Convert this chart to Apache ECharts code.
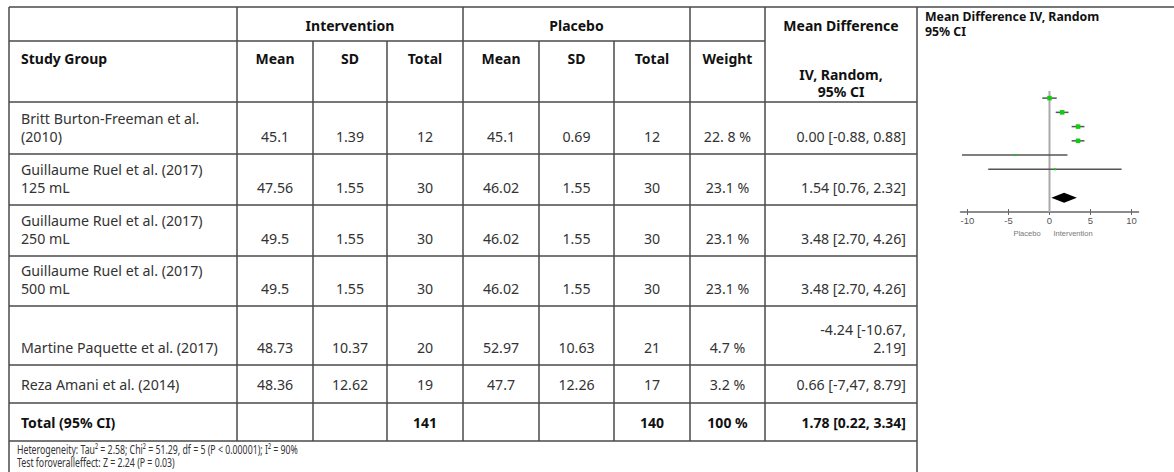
<!DOCTYPE html>
<html>
<head>
<meta charset="utf-8">
<script src="https://cdn.jsdelivr.net/npm/echarts@6/dist/echarts.min.js"></script>
<style>
html,body{margin:0;padding:0;background:#fff;}
#chart{width:1174px;height:472px;}
</style>
</head>
<body>
<div id="chart"></div>
<script>
// ---------- data ----------
const studies = [
  'Britt Burton-Freeman et al.\n(2010)',
  'Guillaume Ruel et al. (2017)\n125 mL',
  'Guillaume Ruel et al. (2017)\n250 mL',
  'Guillaume Ruel et al. (2017)\n500 mL',
  'Martine Paquette et al. (2017)',
  'Reza Amani et al. (2014)'
];
const intMean = ['45.1', '47.56', '49.5', '49.5', '48.73', '48.36'];
const intSD = ['1.39', '1.55', '1.55', '1.55', '10.37', '12.62'];
const intTotal = ['12', '30', '30', '30', '20', '19'];
const plaMean = ['45.1', '46.02', '46.02', '46.02', '52.97', '47.7'];
const plaSD = ['0.69', '1.55', '1.55', '1.55', '10.63', '12.26'];
const plaTotal = ['12', '30', '30', '30', '21', '17'];
const weightLabels = ['22. 8 %', '23.1 %', '23.1 %', '23.1 %', '4.7 %', '3.2 %'];
const mdLabels = ['0.00 [-0.88, 0.88]', '1.54 [0.76, 2.32]', '3.48 [2.70, 4.26]', '3.48 [2.70, 4.26]', '-4.24 [-10.67,\n2.19]', '0.66 [-7,47, 8.79]'];
const mdValues = [0.00, 1.54, 3.48, 3.48, -4.24, 0.66];
const ciLow = [-0.88, 0.76, 2.70, 2.70, -10.67, -7.47];
const ciHigh = [0.88, 2.32, 4.26, 4.26, 2.19, 8.79];
const weights = [22.8, 23.1, 23.1, 23.1, 4.7, 3.2];
const totalLabel = 'Total (95% CI)';
const totalInt = '141';
const totalPla = '140';
const totalWeight = '100 %';
const totalMdLabel = '1.78 [0.22, 3.34]';
const totalMd = 1.78, totalLow = 0.22, totalHigh = 3.34;
const xTicks = [-10, -5, 0, 5, 10];
const footerLines = [
  'Heterogeneity: Tau\u00B2 = 2.58; Chi\u00B2 = 51.29, df = 5 (P < 0.00001); I\u00B2 = 90%',
  'Test foroveralleffect: Z = 2.24 (P = 0.03)'
];

// ---------- layout ----------
const FONT = '"Noto Sans", "DejaVu Sans", sans-serif';
const FS = 14.2;
const HFS = 14;
const LH = 18;
const LINE = '#4a4a4a';
const TXT = '#333';
const HDR = '#111';
const colX = [9, 237, 313, 387, 463, 539, 614, 690, 765, 917];
const rowTop = [102, 154, 205, 256, 306, 365, 403];
const rowBot = [154, 205, 256, 306, 365, 403, 441];

const g = [];
function hline(x1, x2, y) { g.push({type:'line', shape:{x1, y1:y, x2, y2:y}, style:{stroke:LINE, lineWidth:1.5}, silent:true}); }
function vline(x, y1, y2) { g.push({type:'line', shape:{x1:x, y1, x2:x, y2}, style:{stroke:LINE, lineWidth:1.5}, silent:true}); }
function txt(s, x, y, align, bold, opts) {
  opts = opts || {};
  const el = {type:'text', x, y, silent:true, style:{
    text:s, fill: opts.fill || (bold ? HDR : TXT), fontFamily: opts.family || FONT,
    fontSize: opts.size || (bold ? HFS : FS), fontWeight: bold ? 'bold' : 'normal',
    textAlign: align, textVerticalAlign: opts.va || 'middle', lineHeight: opts.lh || LH
  }};
  if (opts.scaleX) el.scaleX = opts.scaleX;
  g.push(el);
}

// grid lines
hline(9, 1174, 7);
hline(9, 765, 41);
[102, 154, 205, 256, 306, 365, 403, 441].forEach(y => hline(9, 917, y));
vline(9, 7, 472);
vline(917, 7, 472);
[237, 463, 690, 765].forEach(x => vline(x, 7, 441));
[313, 387, 539, 614].forEach(x => vline(x, 41, 441));

const cc = i => (colX[i] + colX[i + 1]) / 2;

// headers
txt('Intervention', (237 + 463) / 2, 25, 'center', true);
txt('Placebo', (463 + 690) / 2, 25, 'center', true);
txt('Mean Difference', cc(8), 25, 'center', true);
txt('Study Group', 21, 58, 'left', true);
txt('Mean', cc(1), 58, 'center', true);
txt('SD', cc(2), 58, 'center', true);
txt('Total', cc(3), 58, 'center', true);
txt('Mean', cc(4), 58, 'center', true);
txt('SD', cc(5), 58, 'center', true);
txt('Total', cc(6), 58, 'center', true);
txt('Weight', cc(7), 58, 'center', true);
txt('IV, Random,\n95% CI', cc(8), 83, 'center', true, {lh: 17.5});
txt('Mean Difference IV, Random\n95% CI', 925, 24, 'left', true, {size: 12.3, lh: 15.5});

// body rows
studies.forEach((s, i) => {
  const twoLine = i < 5;
  const last = twoLine ? rowBot[i] - 18 : (rowTop[i] + rowBot[i]) / 2;
  const nameLines = s.split('\n').length;
  txt(s, 21, last - (nameLines - 1) * LH / 2, 'left', false);
  txt(intMean[i], cc(1), last, 'center', false);
  txt(intSD[i], cc(2), last, 'center', false);
  txt(intTotal[i], cc(3), last, 'center', false);
  txt(plaMean[i], cc(4), last, 'center', false);
  txt(plaSD[i], cc(5), last, 'center', false);
  txt(plaTotal[i], cc(6), last, 'center', false);
  txt(weightLabels[i], cc(7), last, 'center', false);
  const mdLines = mdLabels[i].split('\n').length;
  txt(mdLabels[i], 906, last - (mdLines - 1) * LH / 2, 'right', false);
});
// total row
const tc = (403 + 441) / 2;
txt(totalLabel, 21, tc, 'left', true);
txt(totalInt, cc(3), tc, 'center', true);
txt(totalPla, cc(6), tc, 'center', true);
txt(totalWeight, cc(7), tc, 'center', true);
txt(totalMdLabel, 906, tc, 'right', true);
// footer (condensed face)
txt(footerLines[0], 17, 449, 'left', false, {size: 13.2, lh: 13, scaleX: 0.665});
txt(footerLines[1], 17, 462, 'left', false, {size: 13.2, lh: 13, scaleX: 0.665});
// axis captions
const SMALL = '"Liberation Sans", Arial, sans-serif';
txt('Placebo', 1027, 233, 'center', false, {size: 7.5, fill: '#777', family: SMALL, lh: 9});
txt('Intervention', 1073, 233, 'center', false, {size: 7.5, fill: '#777', family: SMALL, lh: 9});

// ---------- forest plot ----------
const studyData = studies.map((s, i) => [i, mdValues[i], ciLow[i], ciHigh[i], weights[i]]);
const DIAMOND_ROW = 7;

const chart = echarts.init(document.getElementById('chart'), null, {renderer: 'svg'});
const axisCommon = {
  type: 'value', min: -10.85, max: 10.85, position: 'bottom',
  splitLine: {show: false}
};
chart.setOption({
  animation: false,
  backgroundColor: '#fff',
  graphic: g,
  grid: {left: 960.5, width: 178, top: 91, height: 121},
  xAxis: [
    Object.assign({}, axisCommon, {
      axisLine: {onZero: false, lineStyle: {color: '#666', width: 1.5}},
      axisTick: {customValues: xTicks, length: 3, lineStyle: {color: '#666', width: 1}},
      axisLabel: {customValues: xTicks, fontSize: 9.5, color: '#555', margin: 3, fontFamily: SMALL}
    }),
    Object.assign({}, axisCommon, {
      offset: 0,
      axisLine: {onZero: false, show: false},
      axisTick: {customValues: xTicks, inside: true, length: 3, lineStyle: {color: '#666', width: 1}},
      axisLabel: {show: false}
    })
  ],
  yAxis: {type: 'value', min: -0.5, max: 8, inverse: true, show: false},
  series: [
    {
      type: 'line', silent: true, symbol: 'none',
      data: [[0, -0.5], [0, 8]],
      lineStyle: {color: '#aaa', width: 2}, z: 1
    },
    {
      type: 'custom', silent: true, z: 3,
      data: studyData,
      encode: {x: [1, 2, 3], y: 0},
      renderItem: function (params, api) {
        const row = api.value(0);
        const p = api.coord([api.value(1), row]);
        const a = api.coord([api.value(2), row]);
        const b = api.coord([api.value(3), row]);
        const sz = Math.max(2, Math.sqrt(api.value(4)) * 0.95);
        return {type: 'group', children: [
          {type: 'line', shape: {x1: a[0], y1: a[1], x2: b[0], y2: b[1]}, style: {stroke: '#555', lineWidth: 1.5}},
          {type: 'rect', shape: {x: p[0] - sz / 2, y: p[1] - sz / 2, width: sz, height: sz}, style: {fill: '#11cc11'}}
        ]};
      }
    },
    {
      type: 'custom', silent: true, z: 3,
      data: [[DIAMOND_ROW, totalMd, totalLow, totalHigh]],
      encode: {x: [1, 2, 3], y: 0},
      renderItem: function (params, api) {
        const row = api.value(0);
        const p = api.coord([api.value(1), row]);
        const a = api.coord([api.value(2), row]);
        const b = api.coord([api.value(3), row]);
        const h = 5;
        return {type: 'polygon', shape: {points: [[a[0], a[1]], [p[0], p[1] - h], [b[0], b[1]], [p[0], p[1] + h]]}, style: {fill: '#000'}};
      }
    }
  ]
});
</script>
</body>
</html>
